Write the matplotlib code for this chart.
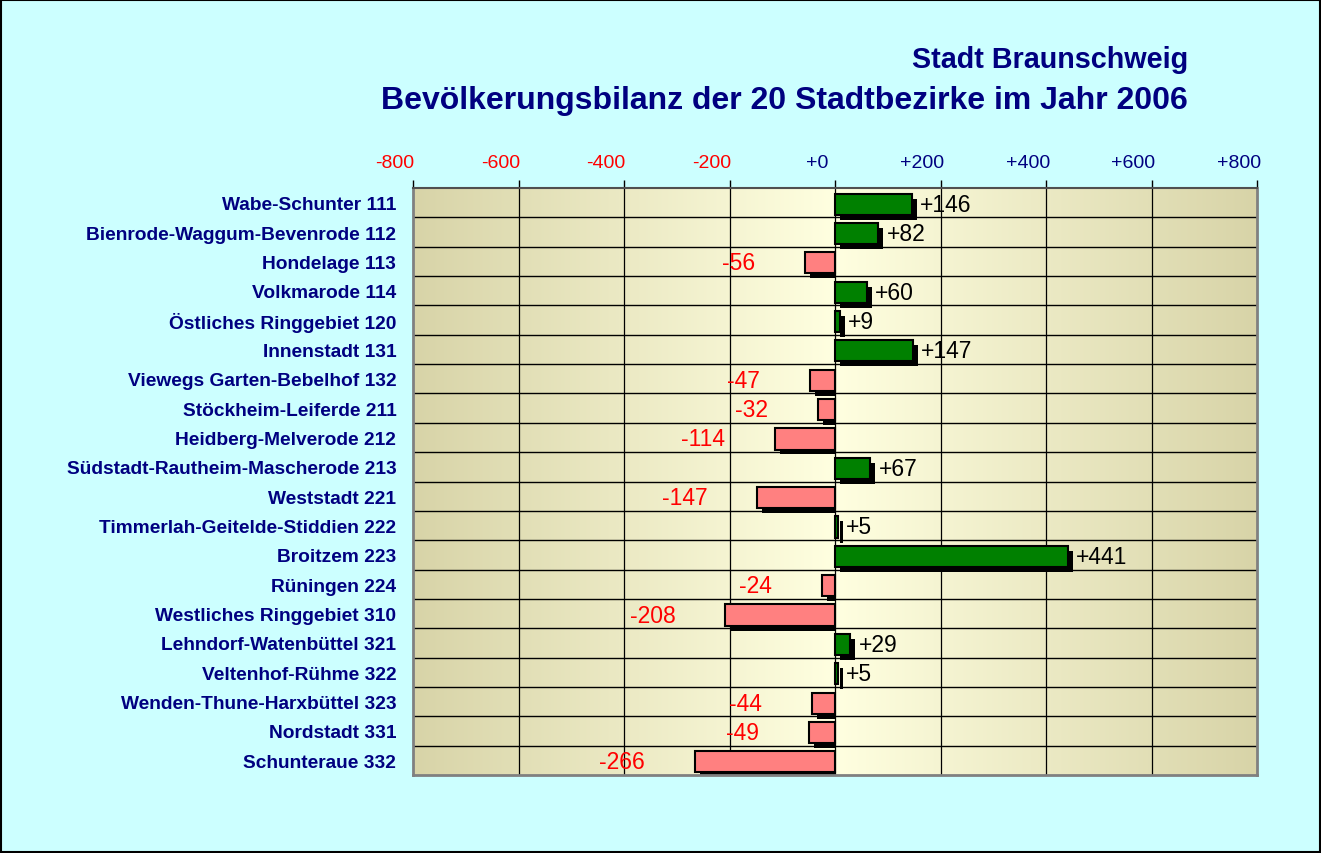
#!/usr/bin/env python3
# -*- coding: utf-8 -*-

import numpy as np
import matplotlib
matplotlib.use("Agg")
import matplotlib.pyplot as plt
from matplotlib.colors import LinearSegmentedColormap
from matplotlib.patches import Rectangle
from matplotlib.transforms import ScaledTranslation

# Daten: Bevölkerungsbilanz 2006 je Stadtbezirk
bezirke = [
    "Wabe-Schunter 111", "Bienrode-Waggum-Bevenrode 112", "Hondelage 113",
    "Volkmarode 114", "Östliches Ringgebiet 120", "Innenstadt 131",
    "Viewegs Garten-Bebelhof 132", "Stöckheim-Leiferde 211",
    "Heidberg-Melverode 212", "Südstadt-Rautheim-Mascherode 213",
    "Weststadt 221", "Timmerlah-Geitelde-Stiddien 222", "Broitzem 223",
    "Rüningen 224", "Westliches Ringgebiet 310", "Lehndorf-Watenbüttel 321",
    "Veltenhof-Rühme 322", "Wenden-Thune-Harxbüttel 323", "Nordstadt 331",
    "Schunteraue 332",
]
bilanz = [146, 82, -56, 60, 9, 147, -47, -32, -114, 67,
          -147, 5, 441, -24, -208, 29, 5, -44, -49, -266]
ticks = [-800, -600, -400, -200, 0, 200, 400, 600, 800]

navy = "#000080"
font = "Liberation Sans"

fig = plt.figure(figsize=(13.21, 8.54), dpi=100)
fig.patch.set_facecolor("#CCFFFF")
fig.patches.append(Rectangle((0.0008, 0.0012), 0.9984, 0.9976, transform=fig.transFigure,
                             fill=False, edgecolor="black", linewidth=1.5))

ax = fig.add_axes([413 / 1321, 1 - 776 / 854, 844 / 1321, 587 / 854])

# Hintergrund: Verlauf von aussen (dunkel) zur Mitte (hell)
cmap = LinearSegmentedColormap.from_list("bg", ["#FFFFE0", "#D8D4A8"])
grad = np.abs(np.linspace(-1, 1, 400))[None, :]
ax.imshow(grad, cmap=cmap, aspect="auto", extent=[-800, 800, 19.5, -0.5],
          zorder=0, interpolation="bicubic")

y = np.arange(len(bezirke))
vals = np.array(bilanz, dtype=float)
h = 0.72
dx, dy = 9.5, 0.17

# Schatten
sh_left = np.where(vals > 0, dx, vals + dx)
sh_width = np.where(vals > 0, vals, -vals - dx)
ax.barh(y + 0.05 + dy, sh_width, left=sh_left, height=h, color="black", zorder=2)

colors = ["#008000" if v > 0 else "#FF8080" for v in bilanz]
ax.barh(y + 0.05, vals, height=h, color=colors, edgecolor="black", linewidth=1.5, zorder=3)

for yi, v in zip(y, bilanz):
    if v > 0:
        ax.annotate(f"+{v}", (v, yi + 0.05), xytext=(6, 0), textcoords="offset points",
                    ha="left", va="center", fontsize=16.5, color="black",
                    family=font, zorder=4)
    else:
        ax.annotate(f"{v}", (v, yi + 0.05), xytext=(-36, 0), textcoords="offset points",
                    ha="right", va="center", fontsize=16.5, color="red",
                    family=font, zorder=4)

# Gitter
for t in ticks[1:-1]:
    ax.axvline(t, color="black", linewidth=0.9, zorder=1)
for yy in np.arange(0.5, len(bezirke) - 0.5, 1):
    ax.axhline(yy, color="black", linewidth=1.0, zorder=1)

ax.set_xlim(-800, 800)
ax.set_ylim(19.5, -0.5)
ax.xaxis.tick_top()
ax.set_xticks(ticks)
ax.set_xticklabels([f"+{t}" if t >= 0 else f"{t}" for t in ticks],
                   fontsize=14, family=font)
ax.tick_params(axis="x", direction="out", length=6, width=1, pad=6)
ax.set_yticks(y)
ax.set_yticklabels(bezirke, fontsize=13.75, fontweight="bold", color=navy, family=font)
ax.tick_params(axis="y", length=0, pad=12)

# Achsenbeschriftung oben etwas nach links versetzt, wie im Original
shift = ScaledTranslation(-18 / 100, 0, fig.dpi_scale_trans)
for lab, t in zip(ax.xaxis.get_majorticklabels(), ticks):
    lab.set_color("red" if t < 0 else navy)
    lab.set_transform(lab.get_transform() + shift)

for side in ["left", "right", "bottom"]:
    ax.spines[side].set_color("#808080")
    ax.spines[side].set_linewidth(2)
ax.spines["top"].set_color("#505050")
ax.spines["top"].set_linewidth(1.5)

fig.text(1188 / 1321, 1 - 60 / 854, "Stadt Braunschweig", ha="right", va="center",
         fontsize=20.7, fontweight="bold", color=navy, family=font)
fig.text(1188 / 1321, 1 - 101 / 854, "Bevölkerungsbilanz der 20 Stadtbezirke im Jahr 2006",
         ha="right", va="center", fontsize=23, fontweight="bold", color=navy, family=font)

fig.savefig("out.png", dpi=100, facecolor=fig.get_facecolor())
